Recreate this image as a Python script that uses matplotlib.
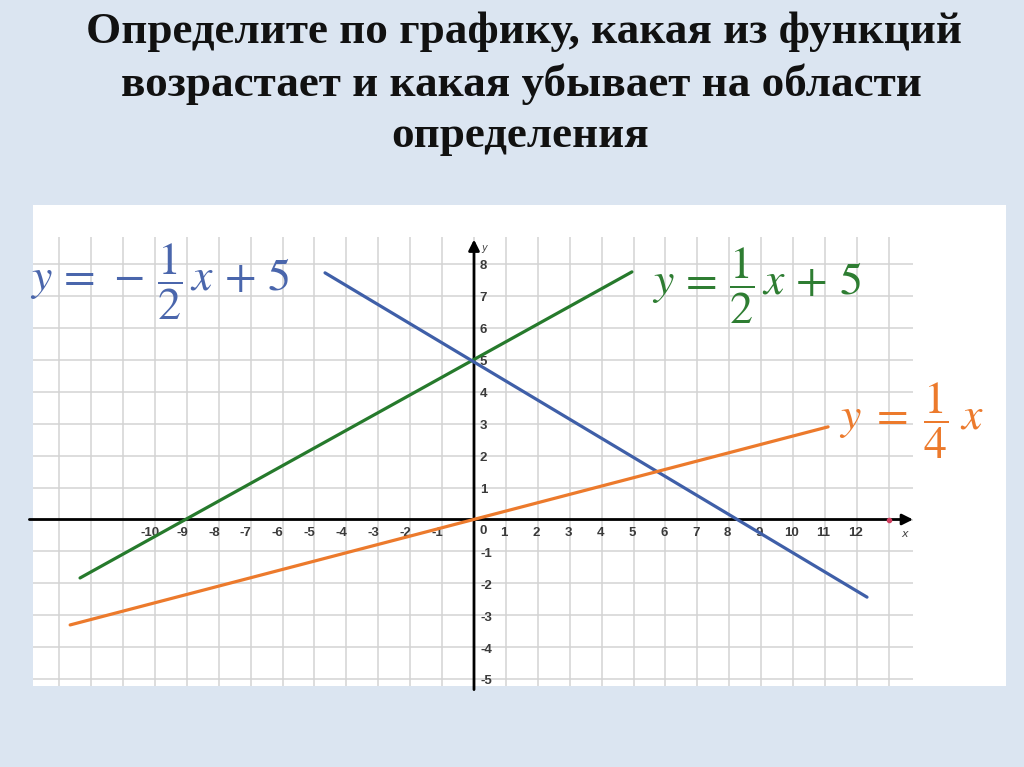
import numpy as np
import matplotlib
matplotlib.use('Agg')
import matplotlib.pyplot as plt

plt.rcParams['mathtext.fontset'] = 'stix'

title_lines = ['Определите по графику, какая из функций',
               'возрастает и какая убывает на области',
               'определения']

x_tick_vals = [-10, -9, -8, -7, -6, -5, -4, -3, -2, -1, 1, 2, 3, 4, 5, 6, 7, 8, 9, 10, 11, 12]
y_tick_vals = [8, 7, 6, 5, 4, 3, 2, 1, -1, -2, -3, -4, -5]

# line endpoints (the drawing is not exact)
green_x = [-12.35, 4.95]
green_y = [-1.83, 7.75]
blue_x = [-4.67, 12.32]
blue_y = [7.72, -2.43]
orange_x = [-12.66, 11.10]
orange_y = [-3.30, 2.90]

labels = [r'$y\,=\,-\,\dfrac{1}{2}\,x\,+\,5$',
          r'$y\,=\,\dfrac{1}{2}\,x\,+\,5$',
          r'$y\;=\;\dfrac{1}{4}\;x$']

bg = '#dbe5f1'
c_green = '#267a2c'
c_blue = '#3f5fa8'
c_orange = '#ec7a2c'
c_grid = '#d3d3d3'

W, H = 1024, 767
fig = plt.figure(figsize=(W/100., H/100.), dpi=100, facecolor=bg)

# title
fs_t = 32.5
fig.text(0.512, 1 - 43./H, title_lines[0], ha='center', va='baseline', fontsize=fs_t,
         family='Liberation Serif', weight='bold', color='#111111')
fig.text(0.509, 1 - 96./H, title_lines[1], ha='center', va='baseline', fontsize=fs_t,
         family='Liberation Serif', weight='bold', color='#111111')
fig.text(0.508, 1 - 147./H, title_lines[2], ha='center', va='baseline', fontsize=fs_t,
         family='Liberation Serif', weight='bold', color='#111111')

# white panel with the graph
x0, x1, y0, y1 = 33, 1006, 205, 686
ax = fig.add_axes([x0/W, 1 - y1/H, (x1-x0)/W, (y1-y0)/H])
ax.set_facecolor('white')
for s in ax.spines.values():
    s.set_visible(False)
ax.set_xticks([])
ax.set_yticks([])

sx, sy = 31.9, 31.95
ox, oy = 474, 519.5
xmin, xmax = (x0-ox)/sx, (x1-ox)/sx
ymin, ymax = (oy-y1)/sy, (oy-y0)/sy
ax.set_xlim(xmin, xmax)
ax.set_ylim(ymin, ymax)

# grid
ax.vlines(np.arange(-13, 14), ymin, 8.84, color=c_grid, lw=1.1, zorder=1)
ax.hlines(np.arange(-5, 9), xmin, 13.76, color=c_grid, lw=1.1, zorder=1)

# axes with arrows
ax.annotate('', xy=(13.85, 0), xytext=(xmin - 0.2, 0),
            arrowprops=dict(arrowstyle='-|>', color='black', lw=2, mutation_scale=16),
            annotation_clip=False, zorder=3)
ax.annotate('', xy=(0, 8.85), xytext=(0, ymin - 0.2),
            arrowprops=dict(arrowstyle='-|>', color='black', lw=2, mutation_scale=16),
            annotation_clip=False, zorder=3)
ax.plot([13], [0], 'o', color='#d04060', ms=3, zorder=4)

tk = dict(fontsize=9.5, family='Liberation Sans', weight='bold', color='#3a3a3a', zorder=2)
for k in x_tick_vals:
    dx = -0.15 if k < 0 else -0.05
    ax.text(k + dx, -0.42, str(k), ha='center', va='center', **tk)
ax.text(0.3, -0.35, '0', ha='center', va='center', **tk)
for k in y_tick_vals:
    dx = 0.3 if k > 0 else 0.38
    ax.text(dx, k - 0.07, str(k), ha='center', va='center', **tk)
ax.text(0.32, 8.5, 'y', ha='center', va='center', fontsize=7, style='italic', color='#444444')
ax.text(13.5, -0.45, 'x', ha='center', va='center', fontsize=8, style='italic', color='#444444')

# the three lines
ax.plot(green_x, green_y, color=c_green, lw=2.3, solid_capstyle='round', zorder=5)
ax.plot(blue_x, blue_y, color=c_blue, lw=2.3, solid_capstyle='round', zorder=5)
ax.plot(orange_x, orange_y, color=c_orange, lw=2.3, solid_capstyle='round', zorder=5)

# equation labels
ax.text(-9.84, 7.43, labels[0], ha='center', va='center', fontsize=33, color='#4a66ac', zorder=6)
ax.text(8.87, 7.3, labels[1], ha='center', va='center', fontsize=33, color='#2e7d32', zorder=6)
ax.text(13.7, 3.1, labels[2], ha='center', va='center', fontsize=33, color=c_orange, zorder=6)

fig.savefig('out.png', dpi=100, facecolor=bg)
